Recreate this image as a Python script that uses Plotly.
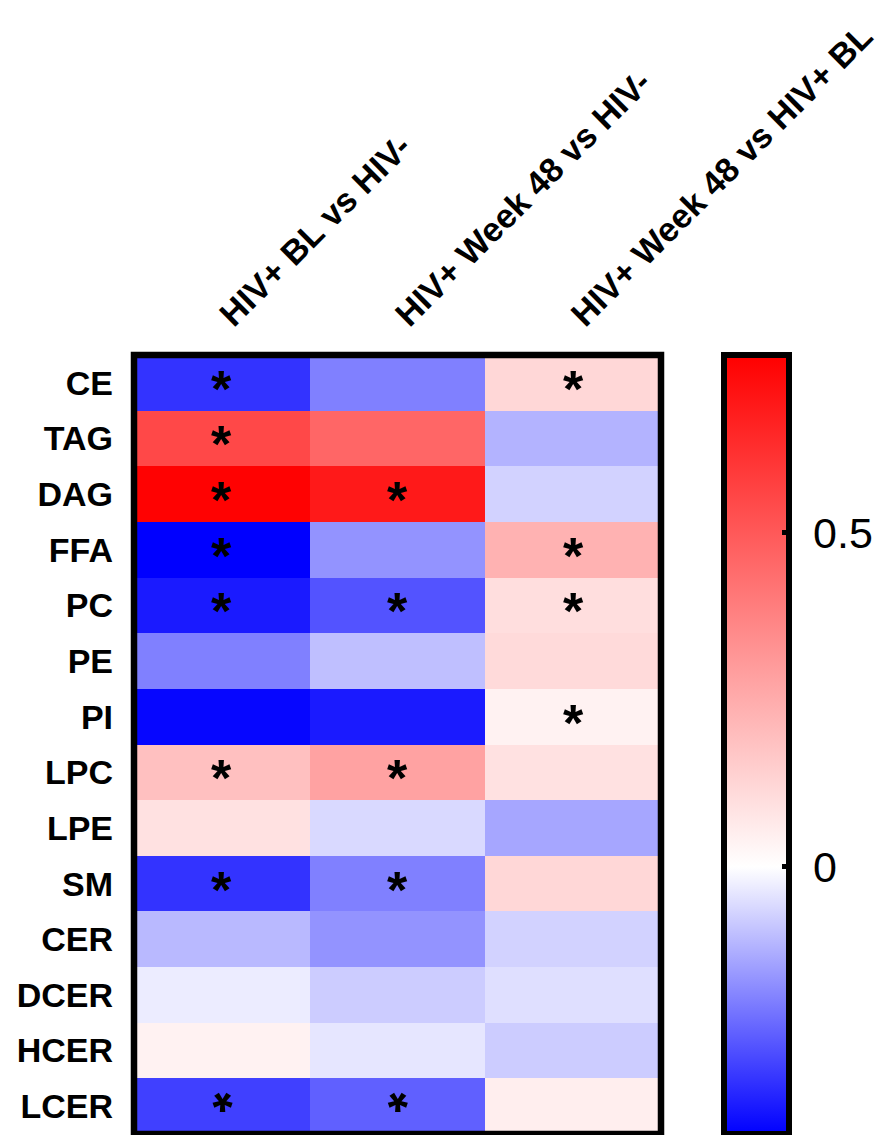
import plotly.graph_objects as go

rows = ["CE", "TAG", "DAG", "FFA", "PC", "PE", "PI", "LPC", "LPE", "SM", "CER", "DCER", "HCER", "LCER"]
cols = ["HIV+ BL vs HIV-", "HIV+ Week 48 vs HIV-", "HIV+ Week 48 vs HIV+ BL"]

bl_vs_neg = [-0.32, 0.55, 0.76, -0.40, -0.36, -0.20, -0.39, 0.19, 0.09, -0.32, -0.11, -0.03, 0.04, -0.30]
w48_vs_neg = [-0.20, 0.46, 0.69, -0.17, -0.27, -0.10, -0.36, 0.28, -0.06, -0.20, -0.17, -0.08, -0.04, -0.25]
w48_vs_bl = [0.12, -0.12, -0.07, 0.23, 0.10, 0.11, 0.04, 0.09, -0.14, 0.12, -0.07, -0.05, -0.08, 0.05]

sig_bl_vs_neg = [1, 1, 1, 1, 1, 0, 0, 1, 0, 1, 0, 0, 0, 1]
sig_w48_vs_neg = [0, 0, 1, 0, 1, 0, 0, 1, 0, 1, 0, 0, 0, 1]
sig_w48_vs_bl = [1, 0, 0, 1, 1, 0, 1, 0, 0, 0, 0, 0, 0, 0]

zmin, zmax = -0.40, 0.766
cbar_ticks = [0, 0.5]
cbar_ticktext = [" 0", " 0.5"]

series = [bl_vs_neg, w48_vs_neg, w48_vs_bl]
sigs = [sig_bl_vs_neg, sig_w48_vs_neg, sig_w48_vs_bl]

z = [[series[j][i] for j in range(len(cols))] for i in range(len(rows))]
xi = list(range(len(cols)))
yi = list(range(len(rows)))

zero_frac = (0 - zmin) / (zmax - zmin)
colorscale = [[0, "rgb(0,0,255)"], [zero_frac, "rgb(255,255,255)"], [1, "rgb(255,0,0)"]]

ML, MR, MT, MB = 126, 241, 341, 9
PLOT_W = 894 - ML - MR
CB_X = (716 - ML) / PLOT_W
CB_THICK = 65
STAR_SIZE = 52
STAR_SHIFT_UP = 6
STAR_SHIFT_FLIP = 12

fig = go.Figure()
fig.add_trace(go.Heatmap(
    z=z, x=xi, y=yi, zmin=zmin, zmax=zmax, colorscale=colorscale,
    hoverinfo="skip",
    colorbar=dict(
        x=CB_X, xanchor="left", xpad=0, thickness=CB_THICK,
        len=1, lenmode="fraction", y=0.5, yanchor="middle", ypad=0,
        outlinewidth=6, outlinecolor="black",
        tickvals=cbar_ticks, ticktext=cbar_ticktext,
        ticks="inside", ticklen=10, tickwidth=5, tickcolor="black",
        tickfont=dict(family="Liberation Sans, Arial", size=43, color="black"),
    ),
))

# significance asterisks (bottom row drawn flipped so its text box stays inside the page)
last = len(rows) - 1
for j in range(len(cols)):
    for i in range(len(rows)):
        if sigs[j][i]:
            flip = i == last
            fig.add_annotation(
                x=xi[j], y=yi[i], text="*", showarrow=False, borderpad=0,
                textangle=180 if flip else 0,
                yshift=STAR_SHIFT_FLIP if flip else -STAR_SHIFT_UP,
                font=dict(family="Liberation Sans, Arial", size=STAR_SIZE,
                          color="black", weight="bold"),
            )

fig.add_shape(type="rect", xref="paper", yref="paper", x0=0, x1=1, y0=0, y1=1,
              line=dict(color="black", width=6.5), fillcolor="rgba(0,0,0,0)")

# left-side inner ticks of the colour bar
for v in cbar_ticks:
    fy = (v - zmin) / (zmax - zmin)
    fig.add_shape(type="line", xref="paper", yref="paper",
                  x0=CB_X + 4 / PLOT_W, x1=CB_X + 14 / PLOT_W, y0=fy, y1=fy,
                  line=dict(color="black", width=5))

fig.update_layout(
    width=894, height=1135,
    margin=dict(l=ML, r=MR, t=MT, b=MB),
    plot_bgcolor="white", paper_bgcolor="white",
    showlegend=False,
    xaxis=dict(
        side="top", tickvals=xi, ticktext=cols, tickangle=-45,
        range=[-0.5, len(cols) - 0.5], showgrid=False, zeroline=False,
        showline=False, ticks="", ticklabelstandoff=14,
        tickfont=dict(family="Liberation Sans, Arial", size=34, color="black",
                      weight="bold"),
    ),
    yaxis=dict(
        tickvals=yi, ticktext=rows, autorange=False,
        range=[len(rows) - 0.5, -0.5], showgrid=False, zeroline=False,
        showline=False, ticks="", ticklabelstandoff=20,
        tickfont=dict(family="Liberation Sans, Arial", size=34, color="black", weight="bold"),
    ),
)

fig.write_html("out.html")
